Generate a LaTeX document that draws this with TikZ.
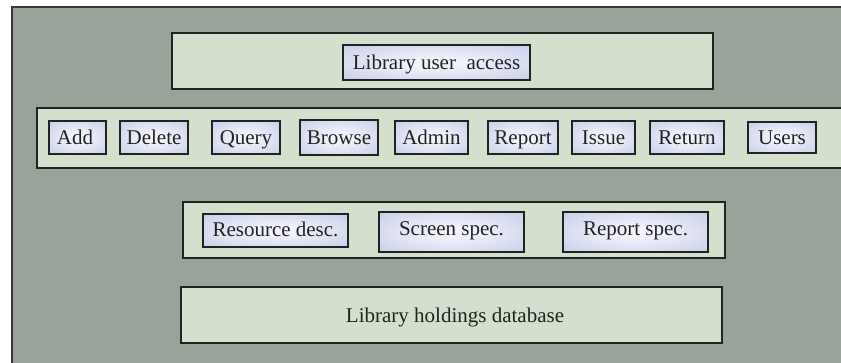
\documentclass[tikz,border=0pt]{standalone}
\usepackage{fontspec}
\setmainfont{Liberation Serif}
\definecolor{panelgray}{HTML}{99A399}
\definecolor{stripfill}{HTML}{D4E0CE}
\definecolor{edge}{HTML}{222222}
\definecolor{cellin}{HTML}{F2F3FA}
\definecolor{cellout}{HTML}{BFC7E6}
\pgfdeclareradialshading{cellglow}{\pgfpointorigin}{color(0bp)=(cellin); color(6bp)=(cellin); color(42bp)=(cellout); color(50bp)=(cellout)}
\tikzset{
  strip/.style={draw=edge, line width=2.8pt, fill=stripfill, inner sep=0pt, outer sep=0pt},
  cell/.style={draw=edge, line width=2.7pt, shading=cellglow, inner sep=0pt, outer sep=0pt,
    text=edge, font=\fontsize{21}{25}\selectfont, text height=15pt, text depth=2pt},
  label/.style={text=edge, font=\fontsize{21}{25}\selectfont, inner sep=0pt, text height=15pt, text depth=2pt}
}
\begin{document}
\begin{tikzpicture}[x=1pt, y=-1pt]
  \useasboundingbox (0,0) rectangle (841,362);
  \clip (0,0) rectangle (841,362);
  \fill[white] (0,0) rectangle (841,362);
  % outer panel (runs off the right and bottom edges)
  \draw[draw=edge!90, line width=2pt, fill=panelgray] (12,7) rectangle (860,380);

  % top tier
  \node[strip, minimum width=541pt, minimum height=56pt] (top) at (442.5,61) {};
  \node[cell, minimum width=187pt, minimum height=35pt, text depth=1pt] (access) at (436.5,62.5) {Library user\hspace{0.25em} access};

  % operations tier
  \node[strip, minimum width=830pt, minimum height=60pt, anchor=west] (ops) at (37,138) {};
  \node[cell, minimum width=57pt, minimum height=33pt] (add)    at (77.5,137.5)  {\hspace{-5pt}Add};
  \node[cell, minimum width=68pt, minimum height=33pt] (delete) at (154,137.5)   {Delete};
  \node[cell, minimum width=68pt, minimum height=33pt] (query)  at (246,137.5)   {Query};
  \node[cell, minimum width=78pt, minimum height=35pt] (browse) at (339,137.5)   {Browse};
  \node[cell, minimum width=73pt, minimum height=33pt] (admin)  at (431.5,137.5) {Admin};
  \node[cell, minimum width=70pt, minimum height=33pt] (report) at (523,137.5)   {Report};
  \node[cell, minimum width=63pt, minimum height=33pt] (issue)  at (603.5,137.5) {Issue};
  \node[cell, minimum width=74pt, minimum height=33pt] (return) at (687,137.5)   {Return};
  \node[cell, minimum width=68pt, minimum height=31pt] (users)  at (782,137.5)   {Users\hspace{8pt}};

  % specification tier
  \node[strip, minimum width=542pt, minimum height=56pt] (specs) at (454,230) {};
  \node[cell, minimum width=145pt, minimum height=33pt, text depth=4pt] (resdesc)    at (275.5,230.5) {Resource desc.};
  \node[cell, minimum width=145pt, minimum height=40pt, text depth=8pt] (screenspec) at (451.5,232)   {Screen spec.};
  \node[cell, minimum width=145pt, minimum height=40pt, text depth=8pt] (reportspec) at (635.5,232)   {Report spec.};

  % database tier
  \node[strip, minimum width=541pt, minimum height=56pt] (db) at (451.5,315) {};
  \node[label] (dblabel) at (455,316) {Library holdings database};
\end{tikzpicture}
\end{document}
